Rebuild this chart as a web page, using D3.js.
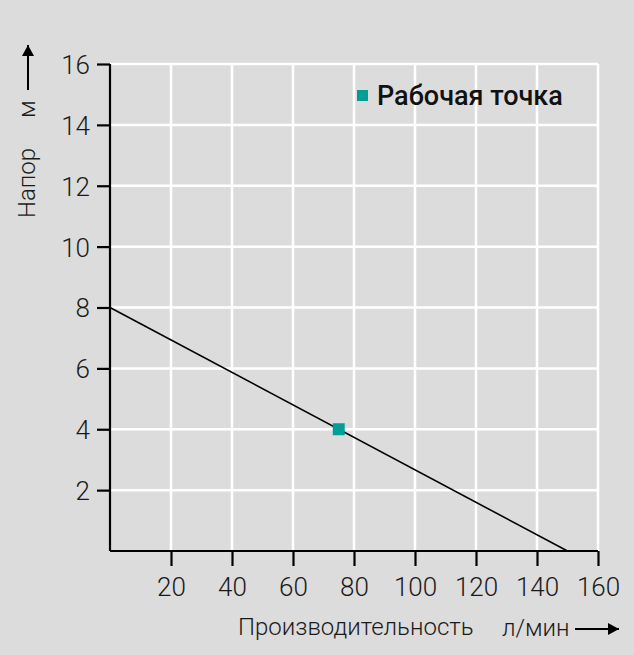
<!DOCTYPE html>
<html><head><meta charset="utf-8">
<script src="https://cdn.jsdelivr.net/npm/d3@7"></script>
<style>body{margin:0;background:#dcdcdc;}svg{display:block;font-family:Roboto,sans-serif;}</style>
</head><body><svg id="c" width="634" height="655"></svg>
<script>
const xTicks = [20, 40, 60, 80, 100, 120, 140, 160];
const yTicks = [2, 4, 6, 8, 10, 12, 14, 16];
const curveQ = [0, 150];
const curveH = [8, 0];
const pointQ = [75];
const pointH = [4];
const legendLabel = "Рабочая точка";
const xLabel = "Производительность", xUnit = "л/мин";
const yLabel = "Напор", yUnit = "м";

const svg = d3.select("#c");
svg.append("rect").attr("width",634).attr("height",655).attr("fill","#dcdcdc");
const m = {l:110, r:36, t:64, b:104};
const W = 634, H = 655;
const x = d3.scaleLinear().domain([0,160]).range([m.l, W-m.r]);
const y = d3.scaleLinear().domain([0,16]).range([H-m.b, m.t]);

const grid = svg.append("g");
grid.selectAll(".gx").data(xTicks).join("line")
  .attr("x1",d=>x(d)).attr("x2",d=>x(d)).attr("y1",y(0)).attr("y2",y(16))
  .attr("stroke","#fff").attr("stroke-width",2.5);
grid.selectAll(".gy").data(yTicks).join("line")
  .attr("y1",d=>y(d)).attr("y2",d=>y(d)).attr("x1",x(0)).attr("x2",x(160))
  .attr("stroke","#fff").attr("stroke-width",2.5);

const line = d3.line().x(d=>x(d[0])).y(d=>y(d[1]));
svg.append("path").datum(curveQ.map((q,i)=>[q,curveH[i]]))
  .attr("d",line).attr("fill","none").attr("stroke","#000").attr("stroke-width",1.6);

const xa = svg.append("g").attr("transform",`translate(0,${y(0)})`)
  .call(d3.axisBottom(x).tickValues(xTicks).tickSize(15).tickSizeOuter(0).tickPadding(6));
const ya = svg.append("g").attr("transform",`translate(${x(0)},0)`)
  .call(d3.axisLeft(y).tickValues(yTicks).tickSize(13).tickSizeOuter(0).tickPadding(7));
[xa,ya].forEach(a=>{
  a.select(".domain").attr("stroke","#000").attr("stroke-width",2.2);
  a.selectAll(".tick line").attr("stroke","#000").attr("stroke-width",2.2);
  a.selectAll(".tick text").attr("fill","#1a1a1a").attr("font-size",26).attr("font-weight",300).attr("font-family","Roboto");
});
xa.select(".domain").attr("d",`M${x(0)},0H${x(160)}`);
ya.select(".domain").attr("d",`M0,${y(0)}V${y(16)}`);
xa.selectAll(".tick text").attr("y",45).attr("dy",0);
ya.selectAll(".tick text").attr("dy","0.36em");

svg.selectAll(".pt").data(pointQ).join("rect")
  .attr("x",(d)=>x(d)-6).attr("y",(d,i)=>y(pointH[i])-6).attr("width",12).attr("height",12)
  .attr("fill","#009e96");

// legend
svg.append("rect").attr("x",357).attr("y",90).attr("width",11).attr("height",11).attr("fill","#009e96");
svg.append("text").attr("x",377).attr("y",105).text(legendLabel)
  .attr("font-size",27).attr("font-weight",500).attr("fill","#111");

// arrow marker
svg.append("defs").append("marker").attr("id","ah").attr("viewBox","0 0 11 12")
  .attr("refX",11).attr("refY",6).attr("markerWidth",11).attr("markerHeight",12)
  .attr("markerUnits","userSpaceOnUse").attr("orient","auto")
  .append("path").attr("d","M0,0L11,6L0,12Z").attr("fill","#000");

// x label
svg.append("text").attr("x",238).attr("y",635).text(xLabel)
  .attr("font-size",24).attr("font-weight",300).attr("fill","#1a1a1a");
svg.append("text").attr("x",502).attr("y",636).text(xUnit)
  .attr("font-size",24).attr("font-weight",300).attr("fill","#1a1a1a");
svg.append("line").attr("x1",575).attr("x2",619).attr("y1",629).attr("y2",629)
  .attr("stroke","#000").attr("stroke-width",2).attr("marker-end","url(#ah)");

// y label
svg.append("text").attr("transform","translate(35,218) rotate(-90)").text(yLabel)
  .attr("font-size",24).attr("font-weight",300).attr("fill","#1a1a1a");
svg.append("text").attr("transform","translate(35,118) rotate(-90)").text(yUnit)
  .attr("font-size",24).attr("font-weight",300).attr("fill","#1a1a1a");
svg.append("line").attr("x1",28).attr("x2",28).attr("y1",90).attr("y2",45)
  .attr("stroke","#000").attr("stroke-width",2).attr("marker-end","url(#ah)");
</script></body></html>
